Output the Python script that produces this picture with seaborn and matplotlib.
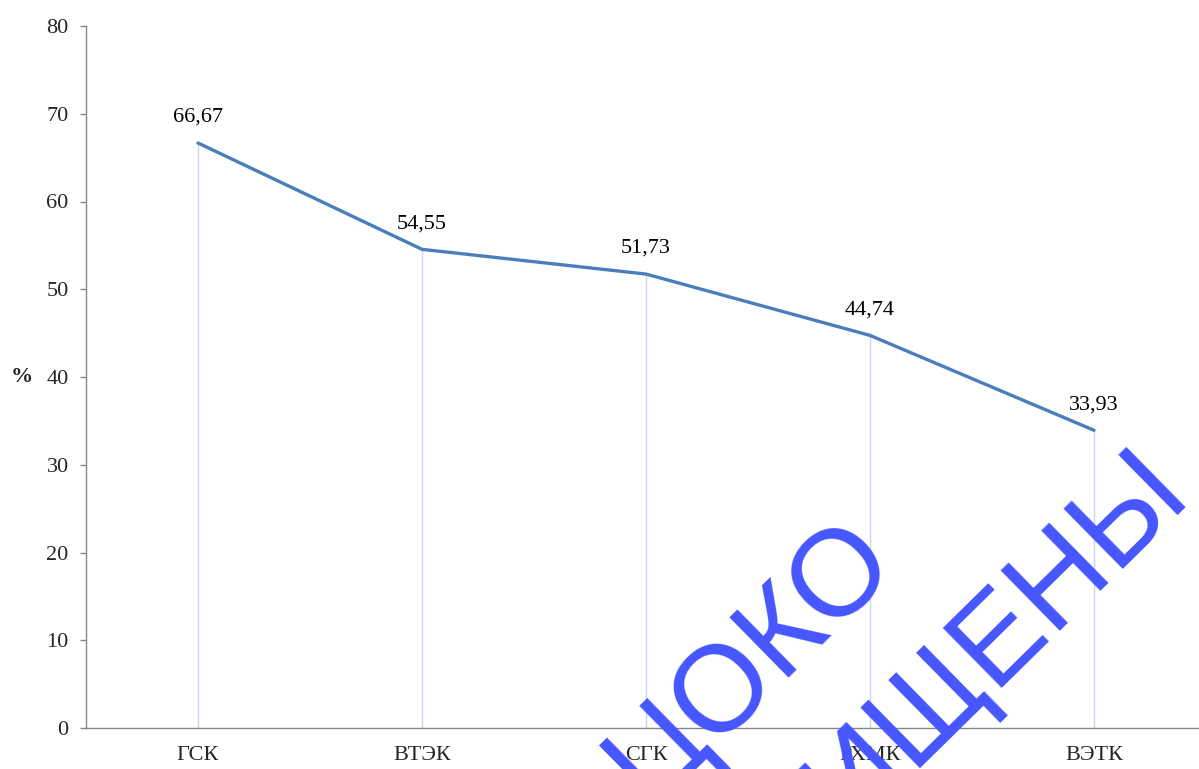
import matplotlib
matplotlib.use('Agg')
import matplotlib.pyplot as plt
import seaborn as sns
import pandas as pd

# chart data
categories = ['ГСК', 'ВТЭК', 'СГК', 'РХМК', 'ВЭТК']
values = [66.67, 54.55, 51.73, 44.74, 33.93]
y_ticks = [0, 10, 20, 30, 40, 50, 60, 70, 80]

sns.set_style('white')
plt.rcParams['font.family'] = ['Liberation Serif', 'DejaVu Serif']

df = pd.DataFrame({'cat': categories, 'val': values})

fig = plt.figure(figsize=(11.99, 7.69), dpi=100)
ax = fig.add_axes([86 / 1199, 41 / 769, 1120 / 1199, 702 / 769])

# drop lines from each point to the axis
pos = list(range(len(categories)))
ax.vlines(pos, 0, values, color='#c6d6ec', linewidth=1, zorder=1)

sns.lineplot(data=df, x='cat', y='val', sort=False, color='#4a7ebb',
             linewidth=2.4, ax=ax, zorder=3)

for i, v in enumerate(values):
    ax.annotate(f'{v:.2f}'.replace('.', ','), (i, v), xytext=(0, 18.5),
                textcoords='offset points', ha='center', va='center',
                fontsize=16, color='black')

ax.set_xlim(-0.5, len(categories) - 0.5)
ax.set_ylim(0, 80)
ax.set_yticks(y_ticks)
ax.set_xticks(pos)
ax.set_xticklabels(categories)
ax.tick_params(axis='y', length=4.5, width=1, color='#868686', pad=8,
               labelsize=16, left=True)
ax.tick_params(axis='x', length=0, pad=13, labelsize=16)

for side in ['top', 'right']:
    ax.spines[side].set_visible(False)
for side in ['left', 'bottom']:
    ax.spines[side].set_color('#868686')
    ax.spines[side].set_linewidth(1)

ax.set_xlabel('')
ax.set_ylabel('%', rotation=0, fontsize=16, fontweight='bold', va='center')
ax.yaxis.set_label_coords(-0.057, 0.5)

# watermark
wm_color = '#4656ff'
fig.text(897 / 1199, 1 - 562 / 769, 'ЦОКО', rotation=44.5, rotation_mode='anchor',
         ha='right', va='baseline', fontsize=88, color=wm_color,
         family='Liberation Sans', zorder=10)
fig.text(1192 / 1199, 1 - 497 / 769, 'ЗАЩИЩЕНЫ', rotation=44.5, rotation_mode='anchor',
         ha='right', va='baseline', fontsize=88, color=wm_color,
         family='Liberation Sans', zorder=10)

fig.savefig('out.png', dpi=100)
